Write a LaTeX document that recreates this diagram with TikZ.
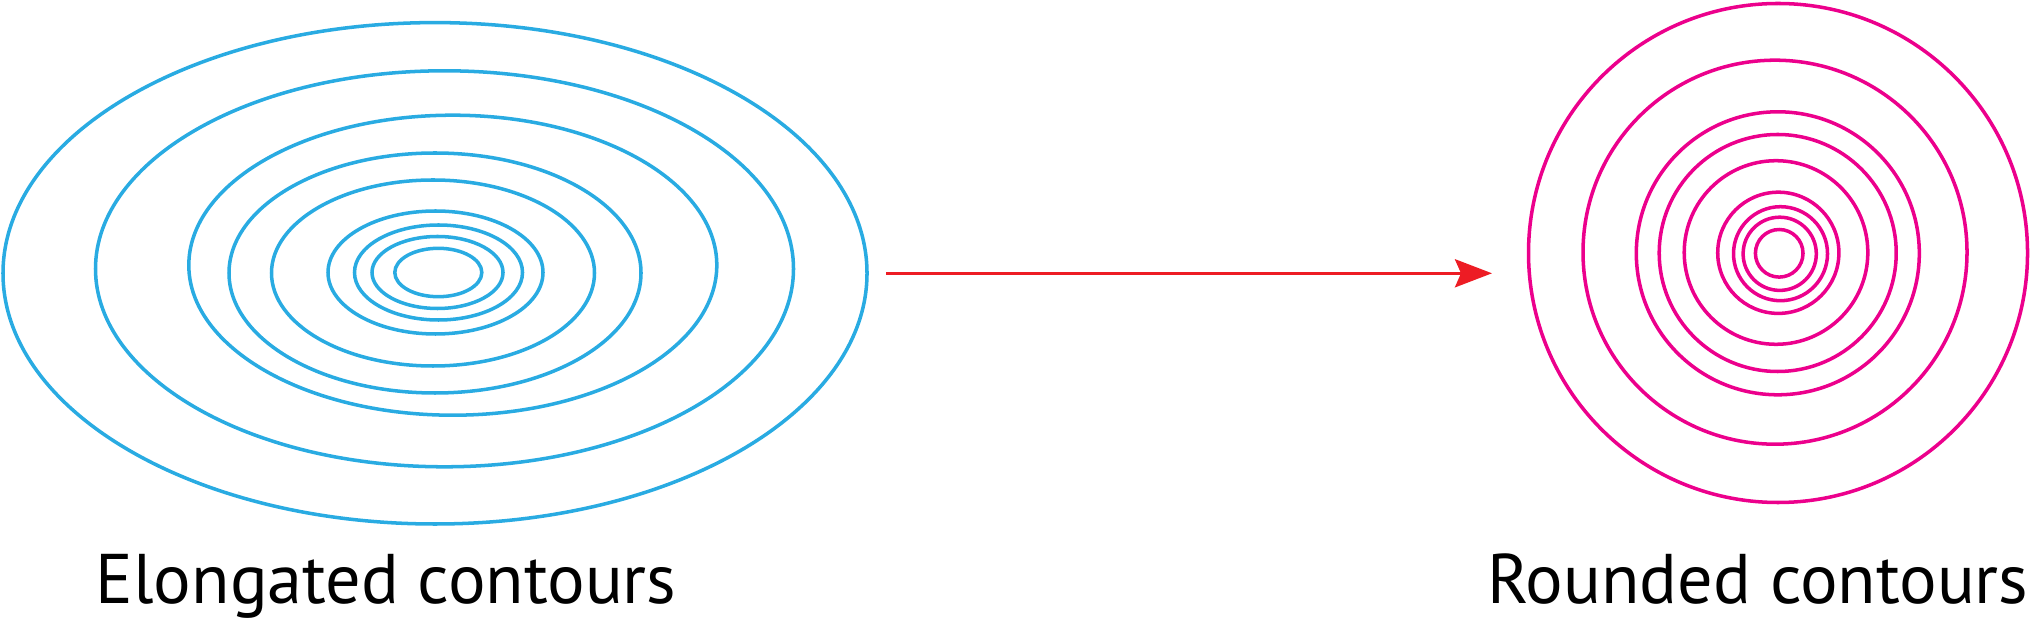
\documentclass[tikz,border=0pt]{standalone}
\usepackage{fontspec}
\setmainfont{PT Sans}
\usepackage{xcolor}
\usepackage{tikz}
\usetikzlibrary{arrows.meta, positioning}

\definecolor{contourblue}{HTML}{29ABE2}
\definecolor{contourpink}{HTML}{EC008C}
\definecolor{arrowred}{HTML}{ED1C24}

\begin{document}
\begin{tikzpicture}[x=0.1mm, y=0.1mm,
  elong/.style={contourblue, line width=1pt},
  round/.style={contourpink, line width=1pt},
  label/.style={inner sep=0pt, font=\fontsize{20pt}{24pt}\selectfont}]
  \useasboundingbox (0,0) rectangle (2034,623);

  \foreach \cx/\cy/\rx/\ry in {435/349.7/432/250.7, 444.5/354.2/349/198,
      452.8/357.8/264/150, 435/350/206/120, 433/350/161.5/93,
      435.5/350.5/107.5/61.5, 438.5/350.5/84/47.5, 437.5/350.5/65.5/36,
      438.3/350.5/43.5/24.2}
    \draw[elong] (\cx,\cy) ellipse ({\rx} and {\ry});

  \foreach \cx/\cy/\r in {1778/370/249.5, 1775/370.8/192, 1777.8/369.7/141.5,
      1777.7/370/118.5, 1776/370.5/91.8, 1778.3/370.2/60.6,
      1780.5/369.3/47, 1779.7/369.2/36.6, 1779.2/369.7/23.8}
    \draw[round] (\cx,\cy) circle ({\r} and {\r});

  \coordinate (arrowstart) at (886,349.7);
  \coordinate (arrowend) at (1492,349.7);
  \draw[arrowred, line width=1pt,
    -{Stealth[length=3.7mm, width=2.8mm, inset=0.6mm]}] (arrowstart) -- (arrowend);

  \node[label, anchor=base west] (elonglabel) at (95,20) {Elongated contours};
  \node[label, anchor=base east] (roundlabel) at (2029,20) {Rounded contours};
\end{tikzpicture}
\end{document}
